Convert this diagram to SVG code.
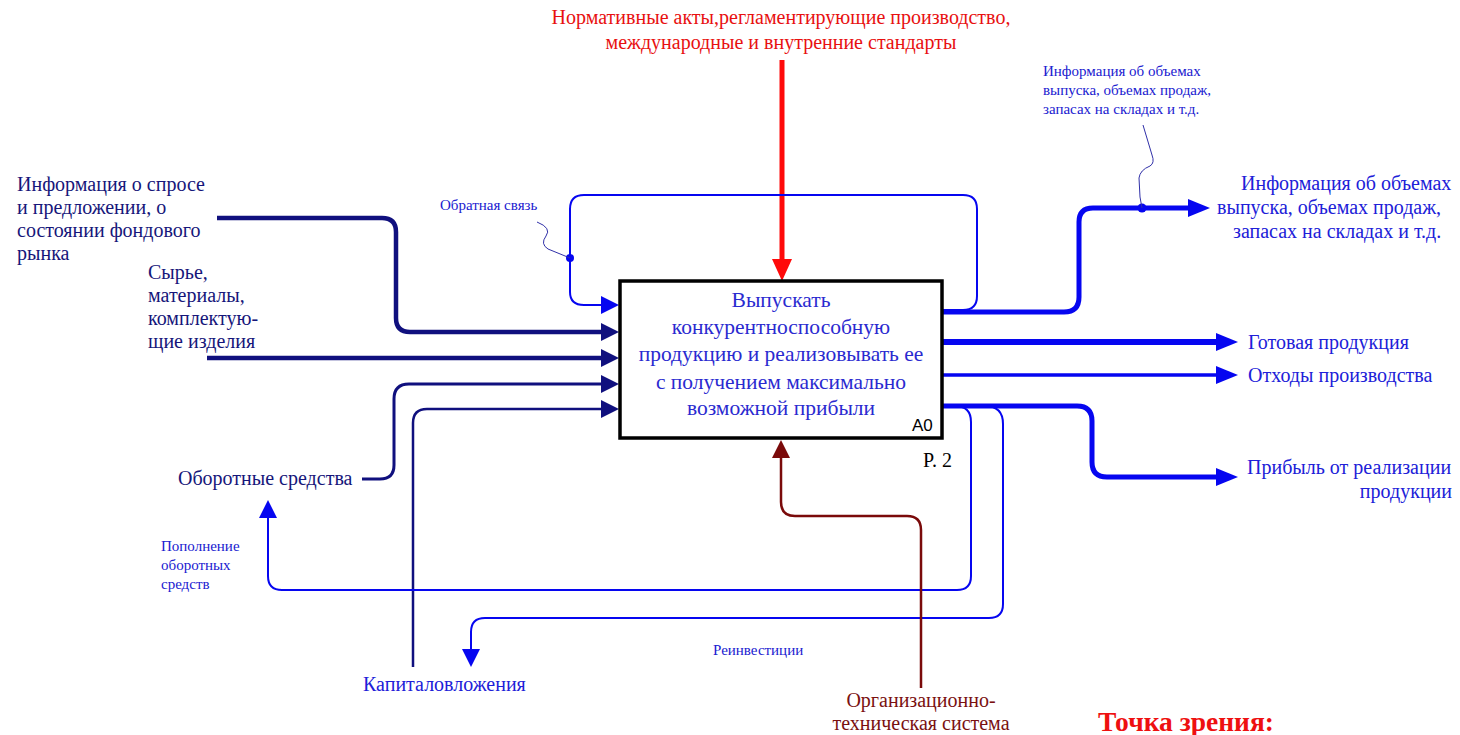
<svg xmlns="http://www.w3.org/2000/svg" width="1460" height="735" viewBox="0 0 1460 735" font-family="'Liberation Serif', 'Times New Roman', serif">
<style>
.serif{font-family:"Liberation Serif","Times New Roman",serif;}
.navy{fill:none;stroke:#10107e;}
.blue{fill:none;stroke:#0606f0;}
.thin{fill:none;stroke:#3030a8;stroke-width:1;}
.tnavy{fill:#16167a;font-size:20px;font-family:"Liberation Serif","Times New Roman",serif;}
.tblue{fill:#2020d8;font-size:20px;font-family:"Liberation Serif","Times New Roman",serif;}
.small{fill:#2020d0;font-size:15px;font-family:"Liberation Serif","Times New Roman",serif;}
.box{fill:#2a2ad0;font-size:21.5px;font-family:"Liberation Serif","Times New Roman",serif;}
</style>
<defs>
<marker id="aNavy" viewBox="0 0 18 18" refX="4" refY="9" markerWidth="18" markerHeight="18" markerUnits="userSpaceOnUse" orient="auto"><path d="M0 0L18 9L0 18z" fill="#10107e"/></marker>
<marker id="aBlue" viewBox="0 0 18 18" refX="4" refY="9" markerWidth="18" markerHeight="18" markerUnits="userSpaceOnUse" orient="auto"><path d="M0 0L18 9L0 18z" fill="#0606f0"/></marker>
<marker id="aBlueL" viewBox="0 0 22 18" refX="5" refY="9" markerWidth="22" markerHeight="18" markerUnits="userSpaceOnUse" orient="auto"><path d="M0 0L22 9L0 18z" fill="#0606f0"/></marker>
<marker id="aRed" viewBox="0 0 22 20" refX="5" refY="10" markerWidth="22" markerHeight="20" markerUnits="userSpaceOnUse" orient="auto"><path d="M0 0L22 10L0 20z" fill="#ff0a0a"/></marker>
<marker id="aDred" viewBox="0 0 18 18" refX="4" refY="9" markerWidth="18" markerHeight="18" markerUnits="userSpaceOnUse" orient="auto"><path d="M0 0L18 9L0 18z" fill="#7a0a0a"/></marker>
</defs>

<g id="connectors">
<path id="c-control" d="M782 60V264" fill="none" stroke="#ff0a0a" stroke-width="5" marker-end="url(#aRed)"/>
<path id="c-info-in" class="navy" stroke-width="4.5" d="M217 218H382Q396 218 396 232V318Q396 332 410 332H605" marker-end="url(#aNavy)"/>
<path id="c-raw" class="navy" stroke-width="4.5" d="M207 358H605" marker-end="url(#aNavy)"/>
<path id="c-working" class="navy" stroke-width="3" d="M362 479H380Q394 479 394 465V399Q394 384 409 384H605" marker-end="url(#aNavy)"/>
<path id="c-capital" class="navy" stroke-width="2.5" d="M413 667V423Q413 409 427 409H605" marker-end="url(#aNavy)"/>
<path id="c-feedback" class="blue" stroke-width="2" d="M942 310H963Q977 310 977 296V209Q977 195 963 195H584Q570 195 570 209V292Q570 305 584 305H605" marker-end="url(#aBlue)"/>
<path id="c-info-out" class="blue" stroke-width="5" d="M942 312H1064Q1079 312 1079 297V222Q1079 208 1093 208H1193" marker-end="url(#aBlueL)"/>
<path id="c-product" class="blue" stroke-width="6" d="M942 342H1221" marker-end="url(#aBlueL)"/>
<path id="c-waste" class="blue" stroke-width="3.5" d="M942 375H1221" marker-end="url(#aBlueL)"/>
<path id="c-profit" class="blue" stroke-width="5" d="M942 406H1077Q1092 406 1092 421V462Q1092 477 1107 477H1221" marker-end="url(#aBlueL)"/>
<path id="c-replenish" class="blue" stroke-width="2" d="M955 406Q971 406 971 422V576Q971 590 957 590H282Q268 590 268 576V514" marker-end="url(#aBlue)"/>
<path id="c-reinvest" class="blue" stroke-width="2" d="M985 406Q1003 406 1003 424V604Q1003 618 989 618H485Q471 618 471 632V653" marker-end="url(#aBlue)"/>
<path id="c-mech" fill="none" stroke="#7a0a0a" stroke-width="2.5" d="M921 688V530Q921 516 907 516H795Q781 516 781 502V454" marker-end="url(#aDred)"/>
<circle cx="570" cy="258" r="4" fill="#0606f0"/>
<circle cx="1142" cy="208" r="4.5" fill="#0606f0"/>
<path class="thin" d="M537 222Q552 228 546 236Q540 244 548 249L570 258"/>
<path class="thin" d="M1142 208L1140 197L1139 178Q1140 170 1150 166Q1155 163 1152 155L1143 125"/>
</g>

<g id="node-a0">
<rect x="620" y="281" width="322" height="157" fill="#fff" stroke="#000" stroke-width="3.5"/>
<text class="box" text-anchor="middle" x="781" y="307">Выпускать</text>
<text class="box" text-anchor="middle" x="781" y="334">конкурентноспособную</text>
<text class="box" text-anchor="middle" x="781" y="361">продукцию и реализовывать ее</text>
<text class="box" text-anchor="middle" x="781" y="389">с получением максимально</text>
<text class="box" text-anchor="middle" x="781" y="415">возможной прибыли</text>
<text x="912" y="431" style="font-family:'Liberation Sans',Arial,sans-serif;font-size:17px;fill:#000">A0</text>
<text class="serif" x="923" y="467" style="font-size:20px;fill:#000">P. 2</text>
</g>

<g id="label-control">
<text class="serif" text-anchor="middle" x="781" y="24" style="font-size:20px;fill:#e81010">Нормативные акты,регламентирующие производство,</text>
<text class="serif" text-anchor="middle" x="781" y="49" style="font-size:20px;fill:#e81010">международные и внутренние стандарты</text>
</g>

<g id="label-info-in">
<text class="tnavy" x="17" y="191">Информация о спросе</text>
<text class="tnavy" x="17" y="214">и предложении, о</text>
<text class="tnavy" x="17" y="237">состоянии фондового</text>
<text class="tnavy" x="17" y="260">рынка</text>
</g>

<g id="label-raw">
<text class="tnavy" x="148" y="279">Сырье,</text>
<text class="tnavy" x="148" y="302">материалы,</text>
<text class="tnavy" x="148" y="325">комплектую-</text>
<text class="tnavy" x="148" y="348">щие изделия</text>
</g>

<g id="label-working">
<text class="tnavy" x="178" y="485">Оборотные средства</text>
</g>

<g id="label-replenish">
<text class="small" x="161" y="551">Пополнение</text>
<text class="small" x="161" y="570">оборотных</text>
<text class="small" x="161" y="589">средств</text>
</g>

<g id="label-capital">
<text class="tblue" x="363" y="691">Капиталовложения</text>
</g>

<g id="label-reinvest">
<text class="small" x="713" y="655">Реинвестиции</text>
</g>

<g id="label-mech">
<text class="serif" text-anchor="middle" x="921" y="707" style="font-size:20px;fill:#7a1010">Организационно-</text>
<text class="serif" text-anchor="middle" x="921" y="730" style="font-size:20px;fill:#7a1010">техническая система</text>
</g>

<g id="label-feedback">
<text class="small" x="440" y="210">Обратная связь</text>
</g>

<g id="label-info-note">
<text class="small" x="1043" y="76">Информация об объемах</text>
<text class="small" x="1043" y="95">выпуска, объемах продаж,</text>
<text class="small" x="1043" y="114">запасах на складах и т.д.</text>
</g>

<g id="label-info-out">
<text class="tblue" x="1241" y="190">Информация об объемах</text>
<text class="tblue" x="1217" y="214">выпуска, объемах продаж,</text>
<text class="tblue" x="1233" y="238">запасах на складах и т.д.</text>
</g>

<g id="label-product">
<text class="tblue" x="1248" y="349">Готовая продукция</text>
</g>
<g id="label-waste">
<text class="tblue" x="1248" y="382">Отходы производства</text>
</g>
<g id="label-profit">
<text class="tblue" x="1247" y="474">Прибыль от реализации</text>
<text class="tblue" text-anchor="end" x="1452" y="498">продукции</text>
</g>

<g id="label-viewpoint">
<text class="serif" x="1098" y="731" style="font-size:27.5px;font-weight:bold;fill:#ee1010">Точка зрения:</text>
</g>
</svg>
